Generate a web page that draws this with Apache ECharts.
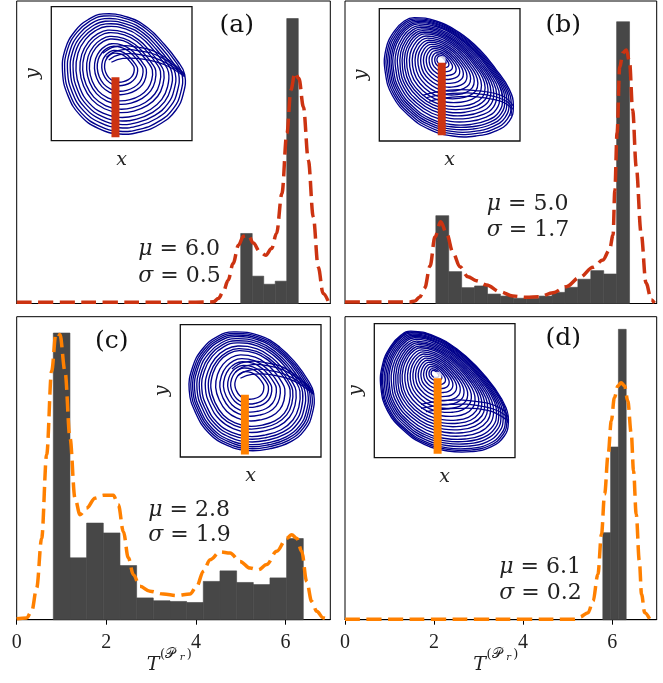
<!DOCTYPE html>
<html><head><meta charset="utf-8">
<script src="https://cdn.jsdelivr.net/npm/echarts@6/dist/echarts.min.js"></script>
<style>html,body{margin:0;padding:0;background:#fff}#c{width:663px;height:683px}</style>
</head><body><div id="c"></div>
<script>
// ---------------- data ----------------
const xTicks = [0, 2, 4, 6];
const panelLabels = ['(a)', '(b)', '(c)', '(d)'];
const muValues = ['6.0', '5.0', '2.8', '6.1'];
const sigmaValues = ['0.5', '1.7', '1.9', '0.2'];

// histograms (density)
const aBinStart = 5.0, aBinWidth = 0.257;
const aHist = [0.643, 0.251, 0.177, 0.205, 2.617];
const bBinStart = 2.04, bBinWidth = 0.29;
const bHist = [0.521, 0.189, 0.094, 0.104, 0.056, 0.044, 0.031, 0.031, 0.044, 0.066, 0.096, 0.144, 0.195, 0.175, 1.671];
const cBinStart = 0.817, cBinWidth = 0.372;
const cHist = [0.816, 0.176, 0.275, 0.247, 0.154, 0.062, 0.054, 0.052, 0.049, 0.109, 0.139, 0.106, 0.100, 0.119, 0.231];
const dBinStart = 5.79, dBinWidth = 0.175;
const dHist = [0.904, 1.794, 3.016];

// KDE curves
const aKdeX = [0, 1.0, 2.0, 3.0, 4.0, 4.39, 4.50, 4.61, 4.72, 4.83, 4.95, 5.06, 5.17, 5.28, 5.43, 5.56, 5.69, 5.80, 5.92, 6.03, 6.12, 6.21, 6.30, 6.40, 6.51, 6.62, 6.73, 6.84, 6.96];
const aKdeY = [0.012, 0.012, 0.012, 0.012, 0.012, 0.015, 0.046, 0.107, 0.214, 0.367, 0.535, 0.618, 0.627, 0.556, 0.474, 0.444, 0.505, 0.643, 1.010, 1.561, 1.959, 2.118, 2.066, 1.805, 1.316, 0.795, 0.336, 0.092, 0.015];
const bKdeX = [0, 1.0, 1.46, 1.57, 1.68, 1.79, 1.91, 2.02, 2.15, 2.28, 2.43, 2.58, 2.76, 2.95, 3.18, 3.48, 3.77, 4.07, 4.37, 4.67, 4.97, 5.27, 5.57, 5.79, 5.94, 6.02, 6.06, 6.11, 6.17, 6.24, 6.32, 6.39, 6.46, 6.54, 6.65, 6.76, 6.88, 6.95];
const bKdeY = [0.009, 0.009, 0.009, 0.015, 0.039, 0.092, 0.222, 0.394, 0.485, 0.416, 0.298, 0.218, 0.159, 0.135, 0.110, 0.070, 0.044, 0.037, 0.040, 0.064, 0.100, 0.155, 0.215, 0.258, 0.317, 0.406, 0.673, 1.011, 1.403, 1.486, 1.504, 1.432, 1.148, 0.811, 0.418, 0.122, 0.021, 0.003];
const cKdeX = [0.0, 0.223, 0.334, 0.446, 0.557, 0.669, 0.780, 0.877, 0.966, 1.078, 1.190, 1.301, 1.413, 1.562, 1.748, 1.934, 2.157, 2.269, 2.381, 2.492, 2.604, 2.753, 2.976, 3.274, 3.571, 3.869, 4.018, 4.167, 4.316, 4.539, 4.762, 4.985, 5.208, 5.394, 5.580, 5.804, 6.027, 6.138, 6.250, 6.362, 6.473, 6.585, 6.696, 6.845, 6.957];
const cKdeY = [0.003, 0.005, 0.024, 0.090, 0.232, 0.470, 0.707, 0.816, 0.811, 0.707, 0.517, 0.346, 0.299, 0.318, 0.346, 0.354, 0.354, 0.327, 0.251, 0.176, 0.128, 0.095, 0.081, 0.073, 0.069, 0.073, 0.095, 0.138, 0.171, 0.193, 0.190, 0.166, 0.147, 0.142, 0.157, 0.195, 0.232, 0.242, 0.232, 0.195, 0.109, 0.052, 0.024, 0.005, 0.0];
const dKdeX = [0, 1.0, 2.0, 3.0, 4.0, 5.16, 5.27, 5.46, 5.57, 5.68, 5.76, 5.83, 5.91, 5.98, 6.05, 6.13, 6.20, 6.28, 6.35, 6.43, 6.48, 6.54, 6.61, 6.66, 6.73, 6.84];
const dKdeY = [0.004, 0.004, 0.004, 0.004, 0.004, 0.004, 0.028, 0.073, 0.194, 0.472, 0.887, 1.303, 1.718, 2.064, 2.306, 2.428, 2.462, 2.428, 2.272, 1.926, 1.545, 1.095, 0.610, 0.264, 0.073, 0.010];

// insets: outer loop shape (fraction of inset box), spiral pole, loop scales, section bar
const aLoop = [[0.367,0.950],[0.545,0.925],[0.687,0.846],[0.806,0.721],[0.900,0.597],[0.953,0.493],[0.943,0.348],[0.889,0.224],[0.782,0.124],[0.640,0.062],[0.486,0.045],[0.332,0.087],[0.201,0.187],[0.114,0.336],[0.076,0.510],[0.095,0.684],[0.166,0.821],[0.261,0.908]];
const aPole = [0.474, 0.560];
const aScales = [0.24, 0.29, 0.37, 0.42, 0.51, 0.56, 0.63, 0.68, 0.75, 0.80, 0.85, 0.90, 0.95, 0.99];
const aExtra = [
  [[0.948,0.493],[0.782,0.622],[0.616,0.672],[0.474,0.672],[0.391,0.622]],
  [[0.948,0.485],[0.794,0.592],[0.628,0.642],[0.486,0.642],[0.408,0.602]],
  [[0.943,0.502],[0.770,0.647],[0.597,0.701],[0.450,0.701],[0.367,0.652]],
  [[0.948,0.478],[0.806,0.567],[0.652,0.609],[0.509,0.614],[0.427,0.585]]
];
const aBar = [[0.456,0.025],[0.456,0.473]];

const bLoop = [[0.249,0.932],[0.403,0.907],[0.569,0.819],[0.711,0.693],[0.829,0.542],[0.924,0.390],[0.953,0.264],[0.924,0.151],[0.829,0.076],[0.687,0.038],[0.521,0.038],[0.355,0.088],[0.213,0.189],[0.095,0.340],[0.043,0.516],[0.047,0.693],[0.107,0.831],[0.178,0.907]];
const bPole = [0.438, 0.617];
const bScales = [0.07, 0.11, 0.16, 0.21, 0.26, 0.31, 0.36, 0.41, 0.46, 0.51, 0.56, 0.61, 0.65, 0.69, 0.73, 0.77, 0.81, 0.85, 0.88, 0.91, 0.94, 0.97, 1.0];
const bExtra = [
  [[0.332,0.327],[0.521,0.360],[0.735,0.353],[0.900,0.302],[0.948,0.239]],
  [[0.355,0.302],[0.569,0.335],[0.782,0.320],[0.924,0.264],[0.936,0.189]],
  [[0.308,0.345],[0.498,0.385],[0.711,0.378],[0.877,0.340],[0.953,0.264]]
];
const bBar = [[0.444,0.043],[0.444,0.592]];

const cLoop = [[0.379,0.950],[0.569,0.919],[0.711,0.831],[0.829,0.705],[0.912,0.579],[0.953,0.479],[0.943,0.327],[0.889,0.202],[0.782,0.108],[0.640,0.058],[0.486,0.043],[0.332,0.083],[0.201,0.176],[0.107,0.327],[0.059,0.504],[0.083,0.680],[0.154,0.819],[0.261,0.914]];
const cPole = [0.486, 0.554];
const cScales = [0.23, 0.30, 0.35, 0.42, 0.48, 0.55, 0.63, 0.67, 0.72, 0.78, 0.82, 0.86, 0.90, 0.93, 0.96, 0.99];
const cExtra = [
  [[0.948,0.490],[0.782,0.630],[0.616,0.690],[0.474,0.690],[0.391,0.640]],
  [[0.948,0.480],[0.794,0.600],[0.628,0.655],[0.486,0.655],[0.408,0.615]],
  [[0.943,0.500],[0.770,0.655],[0.597,0.715],[0.450,0.715],[0.367,0.665]],
  [[0.948,0.472],[0.806,0.575],[0.652,0.620],[0.509,0.625],[0.427,0.595]]
];
const cBar = [[0.459,0.018],[0.459,0.471]];

const dLoop = [[0.261,0.945],[0.427,0.908],[0.592,0.808],[0.735,0.672],[0.853,0.522],[0.936,0.373],[0.953,0.261],[0.924,0.162],[0.829,0.080],[0.687,0.045],[0.521,0.050],[0.355,0.100],[0.213,0.199],[0.095,0.348],[0.047,0.522],[0.059,0.697],[0.118,0.833],[0.190,0.915]];
const dPole = [0.427, 0.634];
const dScales = [0.06, 0.10, 0.15, 0.20, 0.25, 0.30, 0.35, 0.40, 0.45, 0.50, 0.55, 0.60, 0.64, 0.68, 0.72, 0.76, 0.80, 0.84, 0.87, 0.90, 0.93, 0.96, 0.98, 1.0];
const dExtra = [
  [[0.332,0.368],[0.545,0.398],[0.758,0.385],[0.924,0.323],[0.948,0.261]],
  [[0.367,0.343],[0.592,0.368],[0.806,0.353],[0.936,0.286]],
  [[0.332,0.398],[0.521,0.428],[0.735,0.418],[0.900,0.368],[0.953,0.299]]
];
const dBar = [[0.45,0.03],[0.45,0.592]];

// ---------------- layout / style ----------------
const RED = '#cc3311', ORANGE = '#ff8000', BARC = '#474747', NAVY = '#00008b';
const panels = [
  {grid:{left:16.7, top:1, width:313.6, height:302.5}, ymax:2.778, color:RED, bs:aBinStart, bw:aBinWidth, hist:aHist, kx:aKdeX, ky:aKdeY, bottom:false,
   inset:{left:51.3, top:6.7, width:140.7, height:134}, loop:aLoop, pole:aPole, scales:aScales, extra:aExtra, bar:aBar, dot:false,
   label:[236.7,25], stats:[138.3,249.3,276]},
  {grid:{left:345, top:1, width:311.7, height:302.5}, ymax:1.794, color:RED, bs:bBinStart, bw:bBinWidth, hist:bHist, kx:bKdeX, ky:bKdeY, bottom:false,
   inset:{left:379.3, top:8.7, width:140.7, height:132.3}, loop:bLoop, pole:bPole, scales:bScales, extra:bExtra, bar:bBar, dot:true,
   label:[563.3,25], stats:[486.7,204,230.5]},
  {grid:{left:16.7, top:316.7, width:313.6, height:303}, ymax:0.8625, color:ORANGE, bs:cBinStart, bw:cBinWidth, hist:cHist, kx:cKdeX, ky:cKdeY, bottom:true,
   inset:{left:180.3, top:324.7, width:140.7, height:132.3}, loop:cLoop, pole:cPole, scales:cScales, extra:cExtra, bar:cBar, dot:false,
   label:[111.7,341.7], stats:[148.3,510,535.5], title:146.7},
  {grid:{left:345, top:316.7, width:311.7, height:303}, ymax:3.147, color:ORANGE, bs:dBinStart, bw:dBinWidth, hist:dHist, kx:dKdeX, ky:dKdeY, bottom:true,
   inset:{left:374.3, top:323.7, width:140.7, height:134}, loop:dLoop, pole:dPole, scales:dScales, extra:dExtra, bar:dBar, dot:true,
   label:[563.3,338.3], stats:[499.3,567.7,593.3], title:473.3}
];

const SERIF = 'DejaVu Serif';
const grids = [], xAxes = [], yAxes = [], series = [], graphics = [];

panels.forEach((p, i) => {
  grids.push(Object.assign({show:true, borderColor:'#000', borderWidth:1, backgroundColor:'transparent', containLabel:false}, p.grid));
  xAxes.push({gridIndex:i, type:'value', min:0, max:7, interval:2,
    axisLine:{show:true, onZero:false, lineStyle:{color:'#000', width:1}},
    axisTick:{show:p.bottom, length:5, inside:false, customValues:xTicks, lineStyle:{color:'#000', width:1}},
    axisLabel:{show:p.bottom, customValues:xTicks, margin:13, fontFamily:'Liberation Serif', fontSize:20, color:'#222'},
    splitLine:{show:false}});
  yAxes.push({gridIndex:i, type:'value', min:0, max:p.ymax, show:false});
  const bins = p.hist.map((h, k) => [p.bs + k*p.bw, p.bs + (k+1)*p.bw, h]);
  series.push({type:'custom', xAxisIndex:i, yAxisIndex:i, z:1, silent:true,
    encode:{x:[0,1], y:2},
    renderItem:(params, api) => {
      const p0 = api.coord([api.value(0), 0]);
      const p1 = api.coord([api.value(1), api.value(2)]);
      return {type:'rect', shape:{x:p0[0], y:p1[1], width:p1[0]-p0[0], height:p0[1]-p1[1]},
        style:{fill:BARC, stroke:BARC, lineWidth:0.6}};
    },
    data:bins});
  series.push({type:'line', xAxisIndex:i, yAxisIndex:i, z:3, silent:true, showSymbol:false, smooth:0.35, smoothMonotone:'x',
    data:p.kx.map((x, k) => [x, p.ky[k]]),
    lineStyle:{color:p.color, width:3.5, type:[15,6.5], cap:'butt'}});

  // panel label & stats
  graphics.push({type:'text', silent:true, z:10, style:{text:panelLabels[i], x:p.label[0], y:p.label[1], align:'center', verticalAlign:'middle', font:'25px "DejaVu Serif"', fill:'#111'}});
  graphics.push({type:'text', silent:true, z:10, style:{text:'{i|μ} = ' + muValues[i], x:p.stats[0], y:p.stats[1], align:'left', verticalAlign:'middle', fontFamily:SERIF, fontSize:22, fill:'#222',
    rich:{i:{fontFamily:SERIF, fontStyle:'italic', fontSize:22, fill:'#222'}}}});
  graphics.push({type:'text', silent:true, z:10, style:{text:'{i|σ} = ' + sigmaValues[i], x:p.stats[0], y:p.stats[2], align:'left', verticalAlign:'middle', fontFamily:SERIF, fontSize:22, fill:'#222',
    rich:{i:{fontFamily:SERIF, fontStyle:'italic', fontSize:22, fill:'#222'}}}});
  if (p.bottom) {
    const t = p.title;
    graphics.push({type:'text', silent:true, z:10, style:{text:'T', x:t, y:665, align:'left', verticalAlign:'middle', font:'italic 19px "DejaVu Serif"', fill:'#222'}});
    graphics.push({type:'text', silent:true, z:10, style:{text:'(', x:t+13.3, y:654.5, align:'left', verticalAlign:'middle', font:'13px "DejaVu Serif"', fill:'#222'}});
    graphics.push({type:'text', silent:true, z:10, style:{text:'𝒫', x:t+18.5, y:654, align:'left', verticalAlign:'middle', font:'14px "DejaVu Sans", "Noto Sans", serif', fill:'#222'}});
    graphics.push({type:'text', silent:true, z:10, style:{text:'r', x:t+33, y:657.5, align:'left', verticalAlign:'middle', font:'italic 10px "DejaVu Serif"', fill:'#222'}});
    graphics.push({type:'text', silent:true, z:10, style:{text:')', x:t+40, y:654.5, align:'left', verticalAlign:'middle', font:'13px "DejaVu Serif"', fill:'#222'}});
  }
});

panels.forEach((p, i) => {
  const gi = 4 + i;
  grids.push(Object.assign({show:true, borderColor:'#111', borderWidth:1.3, backgroundColor:'#fff', z:5}, p.inset));
  xAxes.push({gridIndex:gi, type:'value', min:0, max:1, name:'x', nameLocation:'middle', nameGap:10,
    nameTextStyle:{fontFamily:SERIF, fontStyle:'italic', fontSize:19, color:'#222'},
    axisLine:{show:false}, axisTick:{show:false}, axisLabel:{show:false}, splitLine:{show:false}});
  yAxes.push({gridIndex:gi, type:'value', min:0, max:1, name:'y', nameLocation:'middle', nameGap:9, nameRotate:90,
    nameTextStyle:{fontFamily:SERIF, fontStyle:'italic', fontSize:19, color:'#222'},
    axisLine:{show:false}, axisTick:{show:false}, axisLabel:{show:false}, splitLine:{show:false}});
  // spiral loops: one closed smooth curve per loop scale
  series.push({type:'custom', xAxisIndex:gi, yAxisIndex:gi, z:6, silent:true, clip:true,
    encode:{x:0, y:1},
    data:p.scales.map(s => [s, s]),
    renderItem:(params, api) => {
      const s = api.value(0);
      const pts = p.loop.map(q => api.coord([p.pole[0] + s*(q[0]-p.pole[0]), p.pole[1] + s*(q[1]-p.pole[1])]));
      return {type:'polygon', shape:{points:pts, smooth:0.45}, style:{fill:null, stroke:NAVY, lineWidth:1.35}};
    }});
  // reinjection strands
  series.push({type:'custom', xAxisIndex:gi, yAxisIndex:gi, z:6, silent:true,
    encode:{x:0, y:1},
    data:p.extra.map((line, k) => [k, k]),
    renderItem:(params, api) => {
      const line = p.extra[params.dataIndex];
      const pts = line.map(q => api.coord(q));
      return {type:'polyline', shape:{points:pts, smooth:0.45}, style:{fill:null, stroke:NAVY, lineWidth:1.25}};
    }});
  if (p.dot) {
    series.push({type:'scatter', xAxisIndex:gi, yAxisIndex:gi, z:7, silent:true, symbolSize:8,
      data:[[p.bar[1][0], p.bar[1][1] + 0.02]], itemStyle:{color:'#fff'}});
  }
  series.push({type:'line', xAxisIndex:gi, yAxisIndex:gi, z:8, silent:true, showSymbol:false,
    data:p.bar, lineStyle:{color:p.color, width:8, cap:'butt'}});
});

const chart = echarts.init(document.getElementById('c'), null, {renderer:'canvas'});
chart.setOption({animation:false, backgroundColor:'#fff', grid:grids, xAxis:xAxes, yAxis:yAxes, series:series, graphic:graphics});
</script></body></html>
